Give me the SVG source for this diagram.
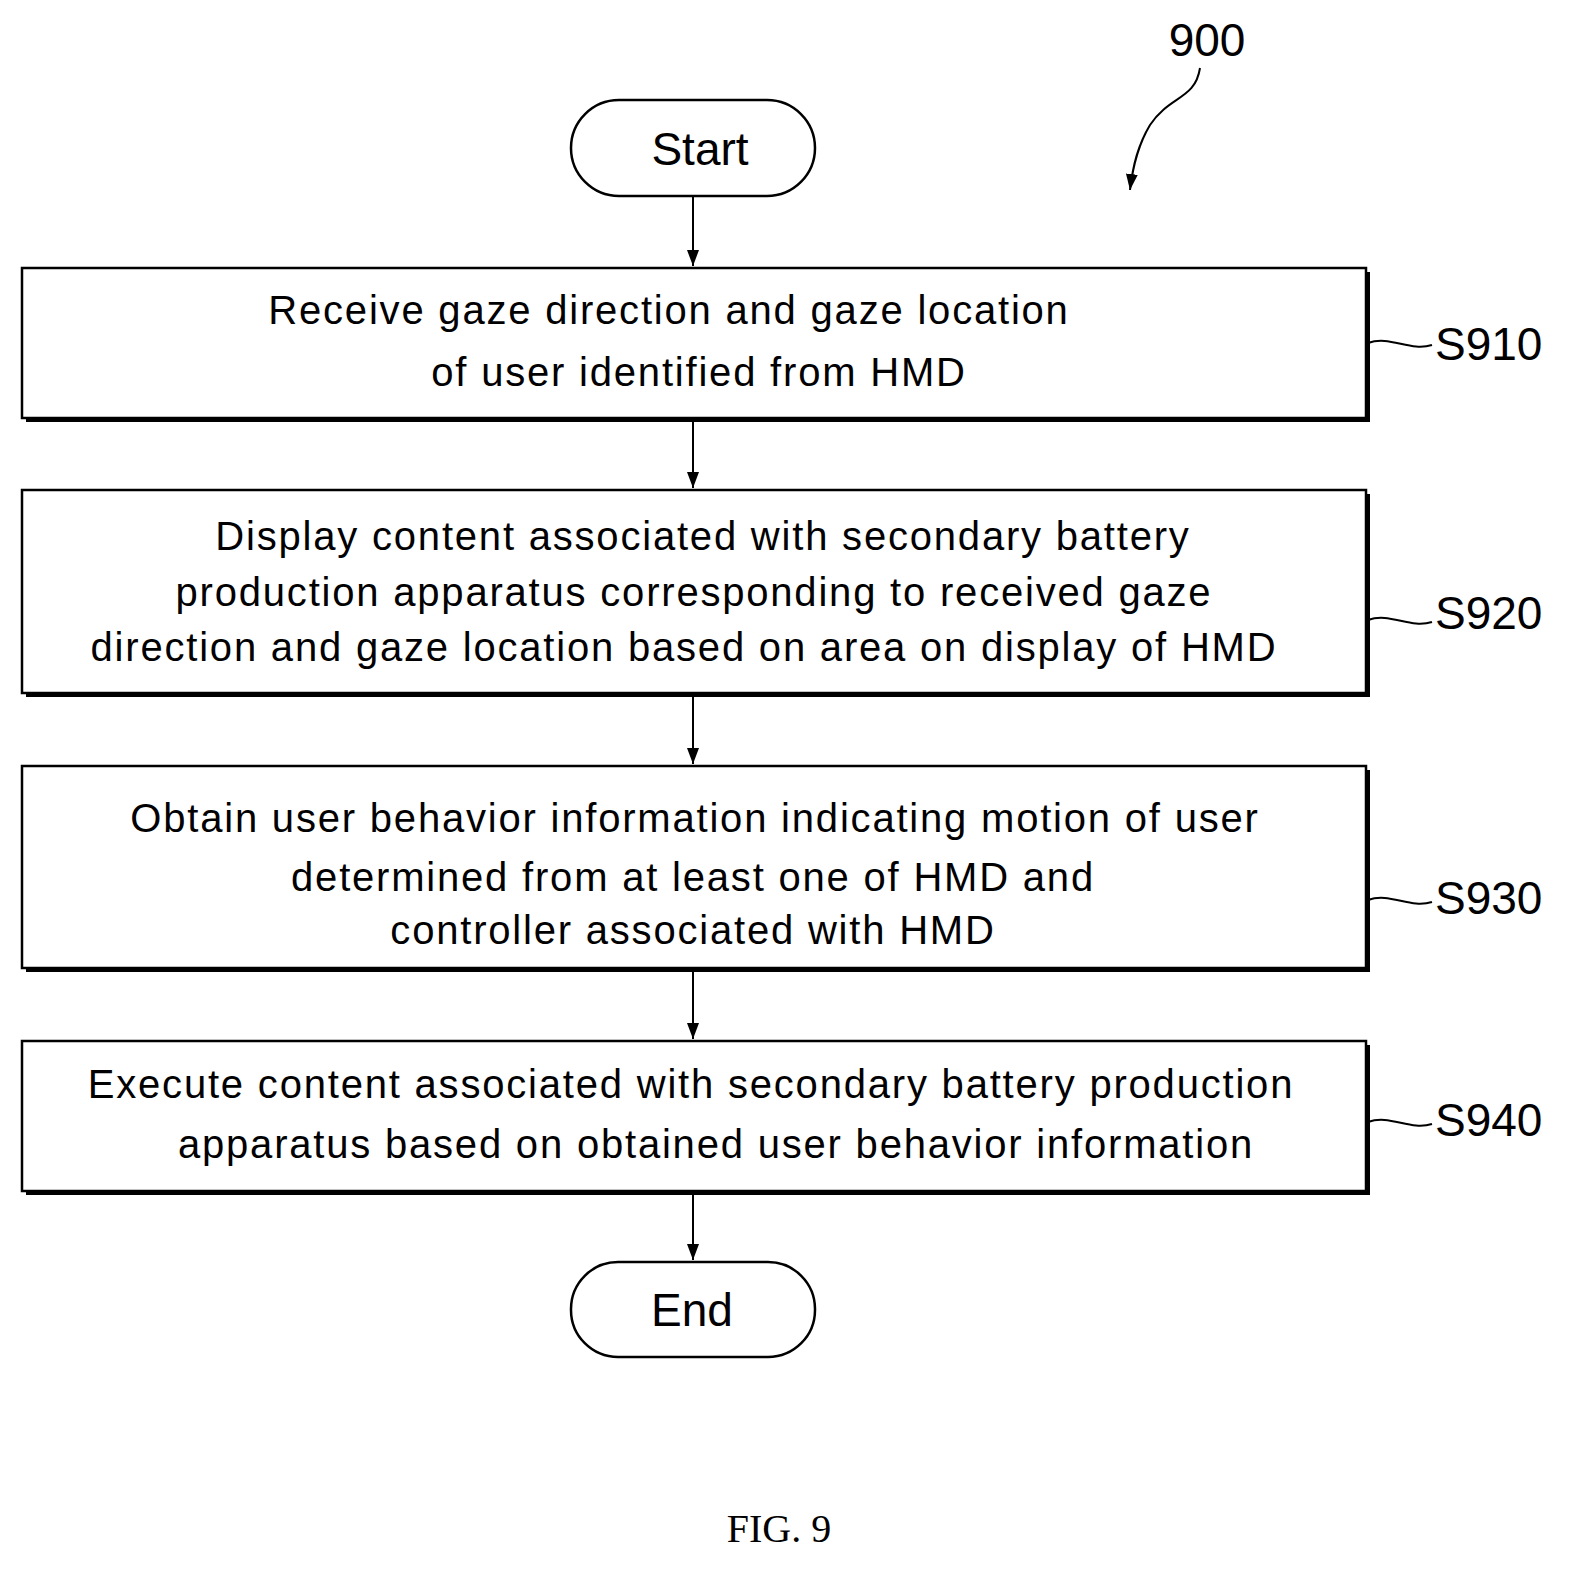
<svg xmlns="http://www.w3.org/2000/svg" width="1579" height="1576" viewBox="0 0 1579 1576">
<style>
.b{fill:#fff;stroke:#000;stroke-width:2.5}
.s{fill:#000}
.t{font-family:"Liberation Sans",Arial,sans-serif;font-size:40px;letter-spacing:1.8px;text-anchor:middle;fill:#000}
.l{font-family:"Liberation Sans",Arial,sans-serif;font-size:46px;fill:#000}
.c{fill:none;stroke:#000;stroke-width:2}
</style>
<defs><marker id="a" markerWidth="16" markerHeight="12" refX="16" refY="6" orient="auto" markerUnits="userSpaceOnUse" viewBox="0 0 16 12"><path d="M0,0 L16,6 L0,12 Z"/></marker></defs>
<rect width="1579" height="1576" fill="#fff"/>
<g id="connectors">
<line class="c" x1="693" y1="196" x2="693" y2="266" marker-end="url(#a)"/>
<line class="c" x1="693" y1="422" x2="693" y2="488" marker-end="url(#a)"/>
<line class="c" x1="693" y1="697" x2="693" y2="764" marker-end="url(#a)"/>
<line class="c" x1="693" y1="972" x2="693" y2="1039" marker-end="url(#a)"/>
<line class="c" x1="693" y1="1195" x2="693" y2="1260" marker-end="url(#a)"/>
<path class="c" d="M1368,343 C1390,335 1410,352 1432,345"/>
<path class="c" d="M1368,620 C1390,612 1410,629 1432,622"/>
<path class="c" d="M1368,900 C1390,892 1410,909 1432,902"/>
<path class="c" d="M1368,1122 C1390,1114 1410,1131 1432,1124"/>
<path class="c" d="M1200,68 C1195,100 1170,95 1150,125 C1138,145 1133,165 1130,190" marker-end="url(#a)"/>
</g>
<g id="start"><rect class="b" x="571" y="100" width="244" height="96" rx="48"/><text class="l" x="700" y="165" text-anchor="middle">Start</text></g>
<g id="S910"><rect class="s" x="26" y="272" width="1344" height="150"/><rect class="b" x="22" y="268" width="1344" height="150"/>
<text class="t" x="669" y="324">Receive gaze direction and gaze location</text><text class="t" x="699" y="386">of user identified from HMD</text>
<text class="l" x="1435" y="360">S910</text></g>
<g id="S920"><rect class="s" x="26" y="494" width="1344" height="203"/><rect class="b" x="22" y="490" width="1344" height="203"/>
<text class="t" x="703" y="550">Display content associated with secondary battery</text><text class="t" x="694" y="606">production apparatus corresponding to received gaze</text><text class="t" x="684" y="661">direction and gaze location based on area on display of HMD</text>
<text class="l" x="1435" y="629">S920</text></g>
<g id="S930"><rect class="s" x="26" y="770" width="1344" height="202"/><rect class="b" x="22" y="766" width="1344" height="202"/>
<text class="t" x="695" y="832">Obtain user behavior information indicating motion of user</text><text class="t" x="693" y="891">determined from at least one of HMD and</text><text class="t" x="693" y="944">controller associated with HMD</text>
<text class="l" x="1435" y="914">S930</text></g>
<g id="S940"><rect class="s" x="26" y="1045" width="1344" height="150"/><rect class="b" x="22" y="1041" width="1344" height="150"/>
<text class="t" x="691" y="1098">Execute content associated with secondary battery production</text><text class="t" x="716" y="1158">apparatus based on obtained user behavior information</text>
<text class="l" x="1435" y="1136">S940</text></g>
<g id="end"><rect class="b" x="571" y="1262" width="244" height="95" rx="47"/><text class="l" x="692" y="1326" text-anchor="middle">End</text></g>
<text class="l" x="1207" y="56" text-anchor="middle">900</text>
<text x="779" y="1542" font-family="Liberation Serif,serif" font-size="40" text-anchor="middle">FIG. 9</text>
</svg>
